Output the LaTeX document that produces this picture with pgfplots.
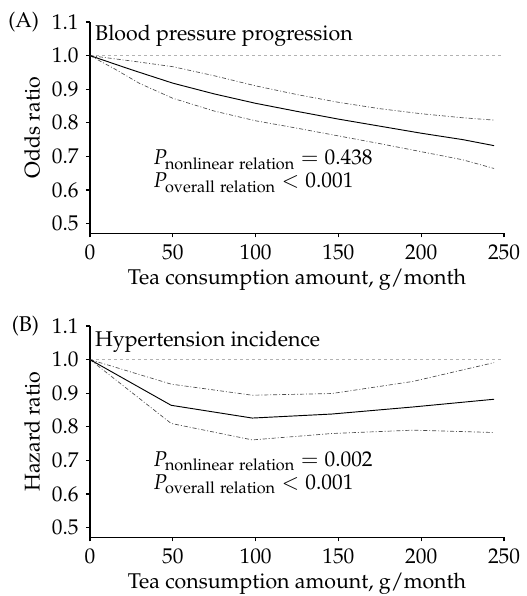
\documentclass[border=0pt]{standalone}
\usepackage[T1]{fontenc}
\usepackage{mathpazo}
\usepackage{pgfplots}
\pgfplotsset{compat=1.18}
\begin{document}
\fontsize{16}{19}\selectfont
\begin{tikzpicture}
\useasboundingbox (-67.5pt,16.5pt) rectangle (327pt,-430.5pt);
\pgfplotsset{
  panel/.style={
    scale only axis, width=310.5pt, height=158.5pt,
    xmin=0, xmax=250, ymin=0.471, ymax=1.1,
    axis x line=bottom, axis y line=left,
    axis line style={-, line width=0.8pt},
    tick align=outside, major tick length=3pt,
    tick style={black, line width=0.8pt},
    xtick={0,50,100,150,200,250},
    ytick={0.5,0.6,0.7,0.8,0.9,1.0,1.1},
    yticklabel style={/pgf/number format/.cd, fixed, fixed zerofill, precision=1},
    xlabel={Tea consumption amount, g/month},
    xlabel style={yshift=4pt},
    ylabel style={yshift=-2pt},
    every tick label/.append style={font=\fontsize{16}{19}\selectfont},
    label style={font=\fontsize{16}{19}\selectfont},
    clip=false,
  },
  ci/.style={black!70, line width=0.5pt, dash pattern=on 3pt off 1.5pt on 0.7pt off 1.5pt},
  est/.style={black, line width=0.7pt},
  ref/.style={black!30, line width=0.5pt, dash pattern=on 2.5pt off 2pt},
}
\begin{axis}[panel, anchor=north west, at={(0,0)}, ylabel={Odds ratio}]
\addplot[ref] coordinates {(0,1) (250,1)};
\addplot[ci] coordinates {(0,1.0) (25,0.984) (50,0.967) (75,0.940) (100,0.910) (125,0.884) (150,0.861) (175,0.842) (200,0.827) (225,0.815) (244,0.808)};
\addplot[ci] coordinates {(0,1.0) (15,0.960) (30,0.917) (50,0.873) (75,0.835) (100,0.806) (125,0.784) (150,0.761) (175,0.738) (200,0.714) (225,0.690) (244,0.664)};
\addplot[est] coordinates {(0,1.0) (25,0.958) (50,0.918) (75,0.886) (100,0.858) (125,0.834) (150,0.811) (175,0.790) (200,0.769) (225,0.750) (244,0.732)};
\node[anchor=base west, inner sep=0pt] at (axis cs:3,1.045) {Blood pressure progression};
\node[anchor=east, inner sep=0pt] at ([xshift=-38pt]rel axis cs:0,1) {(A)};
\node[anchor=base west, inner sep=0pt] at (axis cs:38,0.675) {$P_{\mathrm{nonlinear\ relation}} = 0.438$};
\node[anchor=base west, inner sep=0pt] at (axis cs:38,0.606) {$P_{\mathrm{overall\ relation}} < 0.001$};
\end{axis}
\begin{axis}[panel, anchor=north west, at={(0,-228pt)}, ylabel={Hazard ratio}]
\addplot[ref] coordinates {(0,1) (250,1)};
\addplot[ci] coordinates {(0,1.0) (49,0.927) (98,0.894) (146,0.899) (195,0.935) (244,0.991)};
\addplot[ci] coordinates {(0,1.0) (49,0.810) (98,0.761) (146,0.780) (195,0.790) (244,0.783)};
\addplot[est] coordinates {(0,1.0) (49,0.864) (98,0.826) (146,0.838) (195,0.859) (244,0.882)};
\node[anchor=base west, inner sep=0pt] at (axis cs:3,1.04) {Hypertension incidence};
\node[anchor=east, inner sep=0pt] at ([xshift=-38pt]rel axis cs:0,1) {(B)};
\node[anchor=base west, inner sep=0pt] at (axis cs:38,0.683) {$P_{\mathrm{nonlinear\ relation}} = 0.002$};
\node[anchor=base west, inner sep=0pt] at (axis cs:38,0.614) {$P_{\mathrm{overall\ relation}} < 0.001$};
\end{axis}
\end{tikzpicture}
\end{document}
